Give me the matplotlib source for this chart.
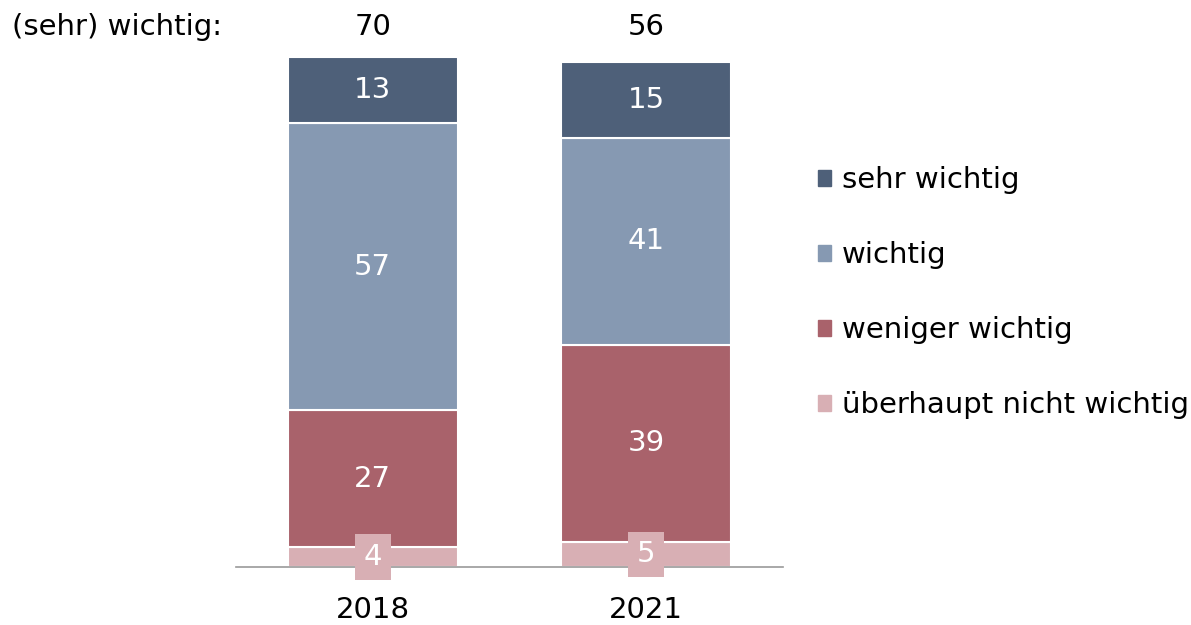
import matplotlib.pyplot as plt
from matplotlib.patches import Patch
from matplotlib.transforms import blended_transform_factory

plt.rcParams['font.family'] = ['DejaVu Sans']

years = ['2018', '2021']
categories = ['überhaupt nicht wichtig', 'weniger wichtig', 'wichtig', 'sehr wichtig']
ueberhaupt_nicht = [4, 5]
weniger = [27, 39]
wichtig = [57, 41]
sehr = [13, 15]
series = [ueberhaupt_nicht, weniger, wichtig, sehr]
colors = ['#D8AFB4', '#A9626B', '#8699B2', '#4E6079']

fig = plt.figure(figsize=(11.91, 6.25), dpi=100)
ax = fig.add_axes([236 / 1191, (625 - 567) / 625, 547 / 1191, 510 / 625])

x = range(len(years))
bottoms = [0, 0]
fs = 21
for vals, col in zip(series, colors):
    ax.bar(x, vals, bottom=bottoms, width=0.62, color=col,
           edgecolor='white', linewidth=1.5)
    for i, v in enumerate(vals):
        yc = bottoms[i] + v / 2
        if v < 8:
            ax.text(i, yc, str(v), ha='center', va='center', color='white',
                    fontsize=fs, bbox=dict(boxstyle='square,pad=0.3',
                                           fc=col, ec='none'))
        else:
            ax.text(i, yc, str(v), ha='center', va='center', color='white',
                    fontsize=fs)
    bottoms = [b + v for b, v in zip(bottoms, vals)]

ax.set_xlim(-0.5, 1.5)
ax.set_ylim(0, 101)
ax.set_xticks(list(x))
ax.set_xticklabels(years, fontsize=fs)
ax.tick_params(axis='x', length=0, pad=21)
ax.set_yticks([])
for s in ['top', 'right', 'left']:
    ax.spines[s].set_visible(False)
ax.spines['bottom'].set_color('#999999')
ax.spines['bottom'].set_linewidth(1.2)

# header row with (sehr) wichtig sums
tr = blended_transform_factory(ax.transData, fig.transFigure)
hy = 1 - 27 / 625
fig.text(12 / 1191, hy, '(sehr) wichtig:', ha='left', va='center', fontsize=fs)
for i in x:
    ax.text(i, hy, str(sehr[i] + wichtig[i]), transform=tr, ha='center',
            va='center', fontsize=fs)

handles = [Patch(color=c, label=l) for c, l in zip(colors[::-1], categories[::-1])]
fig.legend(handles=handles, loc='upper left', bbox_to_anchor=(792 / 1191, 1 - 140 / 625),
           frameon=False, fontsize=fs, handlelength=0.45, handleheight=0.45,
           handletextpad=0.35, labelspacing=1.61)

fig.savefig('out.png', dpi=100)
